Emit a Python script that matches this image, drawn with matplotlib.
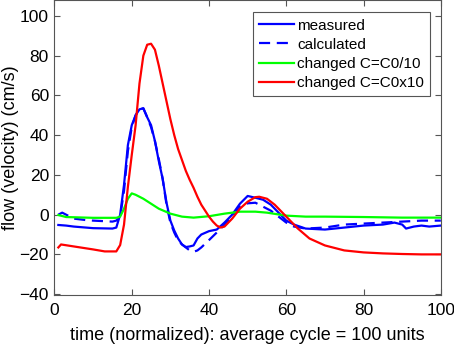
import matplotlib
matplotlib.use("Agg")
import matplotlib.pyplot as plt

plt.rcParams['font.family'] = ['Liberation Sans', 'DejaVu Sans']

# measured (solid blue)
meas_x = [1, 3, 5, 10, 15, 16, 17, 18, 19, 20, 21, 22, 23, 24, 25, 26, 27, 28, 29, 30,
          31, 32, 33, 34, 35, 36, 37, 38, 40, 42, 44, 46, 48, 50, 52, 54, 56, 58, 60,
          62, 65, 70, 75, 80, 85, 88, 90, 91, 93, 95, 97, 100]
meas_y = [-5.2, -5.5, -6, -6.8, -7, -6.5, 0, 15, 35, 45, 50, 53, 53.5, 49, 45, 37, 27, 18, 6, -3,
          -8, -12, -15, -16.3, -16, -15.5, -12, -10, -8.3, -7.5, -4, 0, 5.5, 9.4, 8.5, 7.5, 5, 1, -3,
          -5, -7, -7.5, -6.5, -5.5, -5, -4, -5, -7, -6, -5.5, -6, -5.5]

# calculated (dashed blue)
calc_x = [1, 2, 5, 8, 10, 15, 16, 17, 18, 19, 20, 21, 22, 23, 24, 25, 26, 27, 28, 29, 30,
          31, 32, 33, 34, 35, 36, 37, 38, 40, 42, 44, 46, 48, 50, 52, 54, 56, 58, 60,
          62, 65, 70, 75, 80, 85, 90, 95, 100]
calc_y = [0, 1, -2, -2.7, -3, -3.5, -3, -1, 12, 32, 44, 50, 53, 53.5, 49, 44, 37, 28, 18, 5, -4,
          -9, -13, -15, -16.5, -18, -18.7, -18, -16.5, -12.8, -9, -5, -1, 4, 5.7, 6, 4, 2, -1, -4,
          -6, -7, -6.5, -5, -4.5, -4, -3.5, -3, -3]

# changed C=C0/10 (green)
green_x = [1, 3, 10, 16, 17, 18, 19, 20, 21, 22, 23, 25, 27, 30, 33, 36, 40, 44, 48, 50,
           52, 55, 60, 65, 70, 80, 90, 100]
green_y = [-0.2, -1.2, -1.6, -1.6, -1, 3, 8, 10.7, 10, 9, 8, 5.5, 3, 0.5, -1, -1.5, -0.8, 0.5, 1.5, 1.5,
           1.5, 1, -0.5, -1, -1, -1.2, -1.5, -1.5]

# changed C=C0x10 (red)
red_x = [1, 1.7, 5, 10, 13, 16, 17, 18, 19, 20, 21, 22, 23, 24, 25, 26, 27, 28, 29, 30,
         31, 32, 33, 34, 35, 36, 37, 38, 39, 40, 41, 42, 43, 44, 45, 46, 47, 48, 50, 52, 53,
         55, 57, 60, 63, 66, 70, 75, 80, 85, 90, 95, 100]
red_y = [-16.5, -15, -16, -17.5, -18.5, -18.5, -15.3, -5, 14, 30, 45, 66, 80, 85.5, 86, 83, 75, 66, 57, 48,
         40, 33, 27.5, 22, 17.5, 13.5, 9, 5, 2, -1, -3.5, -5.5, -6.5, -6, -4, -2, 0.5, 3, 6.5, 8.8, 9,
         8, 5, -1, -7, -12, -15.5, -18, -19, -19.5, -19.8, -20, -20]

x_ticks = [0, 20, 40, 60, 80, 100]
y_ticks = [-40, -20, 0, 20, 40, 60, 80, 100]

fig = plt.figure(figsize=(4.54, 3.46), dpi=100)
ax = fig.add_axes([0.12, 0.147, 0.851, 0.853])
lw = 1.6
ax.plot(meas_x, meas_y, color='#0000ff', lw=lw, label='measured')
ax.plot(calc_x, calc_y, color='#0000ff', lw=lw, ls=(0, (5, 3)), label='calculated')
ax.plot(green_x, green_y, color='#00ff00', lw=lw, label='changed C=C0/10')
ax.plot(red_x, red_y, color='#ff0000', lw=lw, label='changed C=C0x10')

ax.set_xlim(0, 100)
ax.set_ylim(-40.5, 108)
ax.set_xticks(x_ticks)
ax.set_yticks(y_ticks)
ax.tick_params(direction='in', top=True, right=True, length=4, labelsize=12.5,
               color='#555555')
ax.tick_params(axis='x', pad=6)
ax.tick_params(axis='y', pad=4)
for s in ax.spines.values():
    s.set_color('#555555')
    s.set_linewidth(0.8)
ax.set_xlabel('time (normalized): average cycle = 100 units', fontsize=13)
ax.set_ylabel('flow (velocity) (cm/s)', fontsize=13)
ax.yaxis.set_label_coords(-0.093, 0.5)
ax.xaxis.set_label_coords(0.5, -0.108)
leg = ax.legend(loc='upper right', bbox_to_anchor=(0.972, 0.958), fontsize=11, handlelength=2.3,
                handletextpad=0.2, borderpad=0.4, labelspacing=0.34, fancybox=False,
                framealpha=1, edgecolor='#555555', borderaxespad=0)
leg.get_frame().set_linewidth(0.8)
fig.savefig('out.png', dpi=100)
